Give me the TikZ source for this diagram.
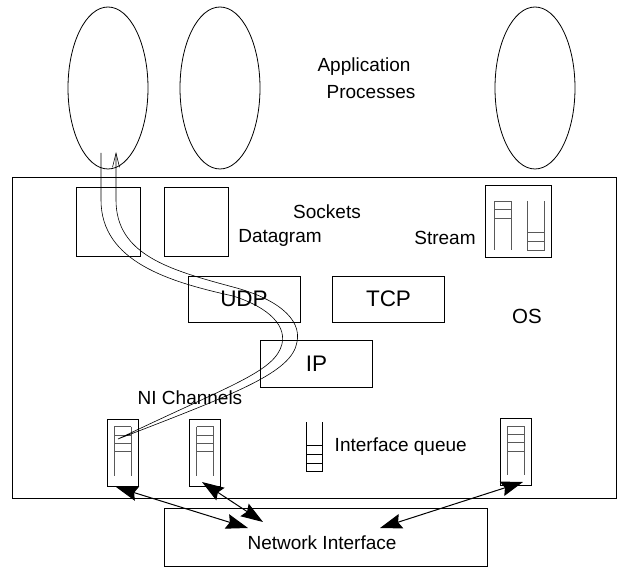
\documentclass[tikz,border=0pt]{standalone}
\usepackage{fontspec}
\setmainfont{Liberation Sans}
\usetikzlibrary{shapes.geometric,arrows.meta,calc}

\colorlet{qgray}{black!65}

\begin{document}
\begin{tikzpicture}[x=1pt,y=-1pt,line width=0.8pt,
    every node/.style={font=\fontsize{19}{22}\selectfont},
    proc/.style={draw,ellipse,minimum width=80pt,minimum height=162pt,inner sep=0pt},
    box/.style={draw,rectangle,inner sep=0pt},
    layer/.style={box,minimum width=112pt,minimum height=46pt,font=\fontsize{22.5}{26}\selectfont},
    nibox/.style={box,minimum width=31pt,minimum height=67pt},
    queue/.style={qgray,line width=0.9pt},
    nitip/.tip={Stealth[length=22pt,width=15pt,inset=3pt]},
    biarrow/.style={line width=1pt,nitip-nitip},
    flow/.style={line width=0.6pt,-{Straight Barb[length=14pt,width=7pt]}}]
      \useasboundingbox (0,0) rectangle (632,580);

      % application processes
      \node[proc] (p1) at (108,88) {};
      \node[proc] (p2) at (220,88) {};
      \node[proc] (p3) at (535,88) {};
      \node (app) at (364,67) {Application};
      \node (procs) at (371,92) {Processes};

      % operating system
      \node[box,minimum width=604pt,minimum height=321pt] (os) at (314,338) {};
      \node[font=\fontsize{20.5}{24}\selectfont] (oslabel) at (527,316) {OS};

      % sockets
      \node[box,minimum width=64pt,minimum height=69pt] (s1) at (108,222) {};
      \node[box,minimum width=64pt,minimum height=69pt] (s2) at (196,222) {};
      \node[box,minimum width=66pt,minimum height=72pt] (s3) at (518,221) {};
      \node (sockets) at (327,212) {Sockets};
      \node (dgram) at (280,238) {Datagram};
      \node (stream) at (445,238) {Stream};

      \draw[queue] (494,250) -- (494,201) -- (511,201) -- (511,250);
      \draw[queue] (494,209) -- (511,209) (494,218) -- (511,218);
      \draw[queue] (527,201) -- (527,250) -- (544,250) -- (544,201);
      \draw[queue] (527,241) -- (544,241) (527,232) -- (544,232);

      % protocols
      \node[layer] (udp) at (244,299) {UDP};
      \node[layer] (tcp) at (388.5,299) {TCP};
      \node[layer,minimum height=47pt] (ip) at (316.5,363.5) {IP};

      % network interface channels
      \node (nich) at (190,398) {NI Channels};
      \node[nibox] (ni1) at (122.5,452.5) {};
      \node[nibox] (ni2) at (205,452.5) {};
      \node[nibox] (ni3) at (516,452) {};
      \foreach \n in {ni1,ni2,ni3} {
        \draw[queue] ($(\n.north)+(-8.5,8)$) -- ($(\n.north)+(-8.5,57)$)
                     ($(\n.north)+(8.5,8)$) -- ($(\n.north)+(8.5,57)$);
        \foreach \d in {8,16.4,24.8,33.2}
          \draw[queue] ($(\n.north)+(-8.5,\d)$) -- ($(\n.north)+(8.5,\d)$);
      }

      \draw[black] (306,422) -- (306,471) -- (322,471) -- (322,422);
      \draw[black] (306,445) -- (322,445) (306,454) -- (322,454) (306,463) -- (322,463);
      \node[anchor=west] (iq) at (331,447) {Interface queue};

      % network interface
      \node[box,minimum width=323pt,minimum height=58pt] (nif) at (325.5,537) {};
      \node (niflabel) at (322,543) {Network Interface};
      \coordinate (nifa) at (248,528);
      \coordinate (nifb) at (263,522);
      \coordinate (nifc) at (380,528);
      \coordinate (ni1b) at (116,487);
      \coordinate (ni2b) at (202,482);
      \coordinate (ni3b) at (523,482);

      \draw[biarrow] (ni1b) -- (nifa);
      \draw[biarrow] (ni2b) -- (nifb);
      \draw[biarrow] (ni3b) -- (nifc);

      % datagram path
      \coordinate (pin) at (101,153);
      \coordinate (pturn) at (118,439);
      \coordinate (pout) at (116,152);
      \draw[flow] (pin) -- (101,200)
          .. controls (101,262) and (170,282) .. (233,296)
          .. controls (262,305) and (287,322) .. (282,344)
          .. controls (275,372) and (230,385) .. (pturn)
          .. controls (240,392) and (292,372) .. (297,342)
          .. controls (302,318) and (275,298) .. (233,287)
          .. controls (170,270) and (116,255) .. (116,200) -- (pout);
    \end{tikzpicture}
\end{document}
